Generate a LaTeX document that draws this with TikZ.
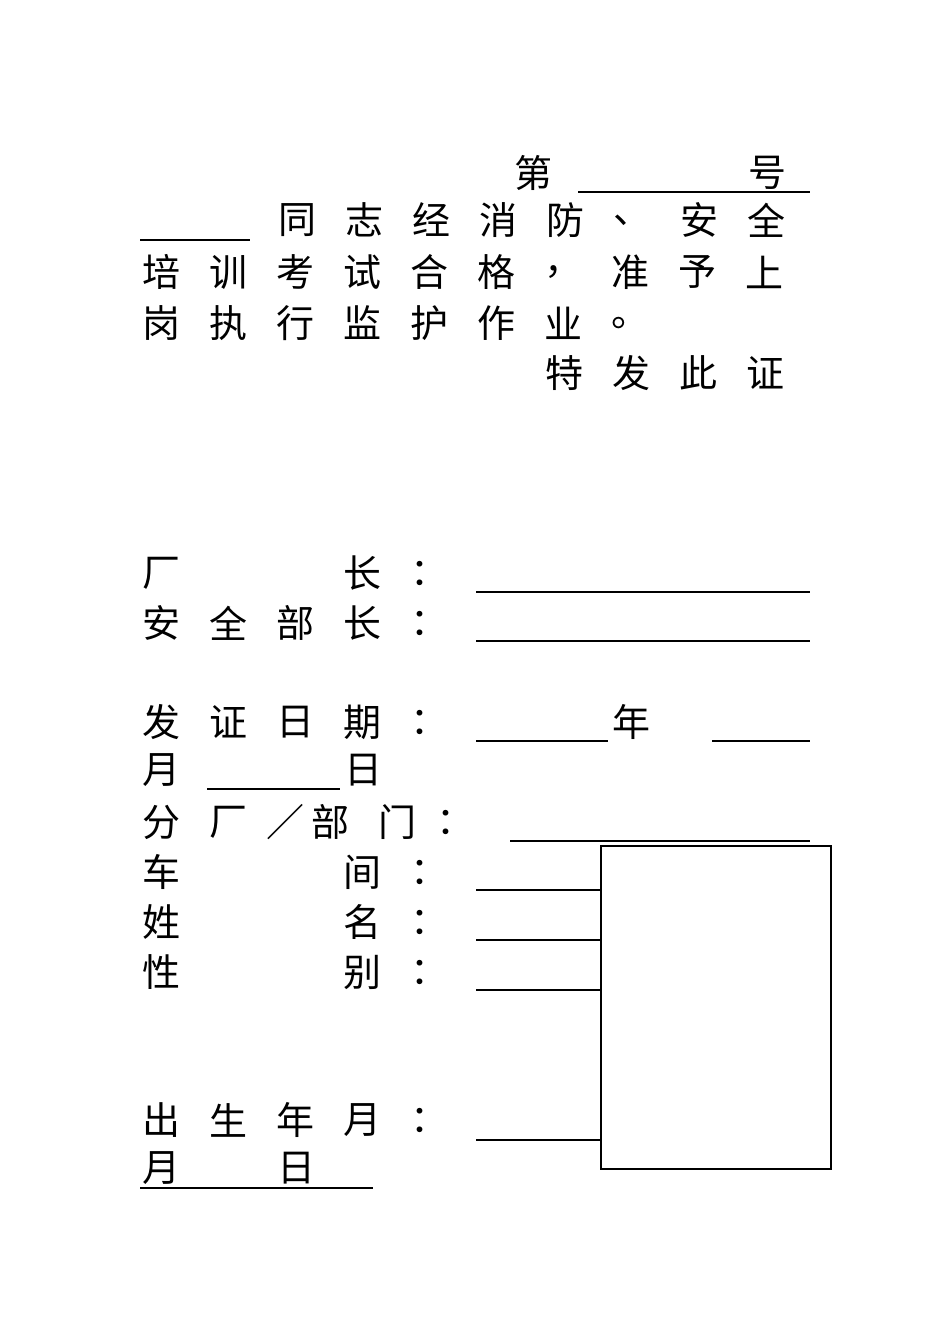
\documentclass[tikz,border=0pt]{standalone}
\usepackage{fontspec}
\newfontfamily\cjk{Noto Sans CJK SC}
\begin{document}
\begin{tikzpicture}[x=1pt,y=1pt,
  ch/.style={font=\cjk\fontsize{38}{38}\selectfont,inner sep=0pt,anchor=center},
  ul/.style={line width=1.6pt}]
\useasboundingbox (0,0) rectangle (950,-1342);
\newcommand\row[4]{\foreach \c [count=\i from 0] in {#4}
  \node[ch] (#1-\i) at ({#2+67*\i},-#3) {\c};}
% header
\node[ch] (di) at (533,-173) {第};
\node[ch] (hao) at (767,-173) {号};
\draw[ul] (578,-192) -- (810,-192);
\draw[ul] (140,-240) -- (250,-240);
\row{a}{297}{220}{同,志,经,消,防,、,安,全}
\row{b}{161}{272}{培,训,考,试,合,格,，,准,予,上}
\row{c}{161}{323}{岗,执,行,监,护,作,业,。}
\row{d}{564}{373}{特,发,此,证}
% signatures
\node[ch] at (161,-573) {厂};
\node[ch] at (362,-573) {长};
\node[ch] at (429,-573) {：};
\draw[ul] (476,-592) -- (810,-592);
\row{e}{161}{623}{安,全,部,长,：}
\draw[ul] (476,-641) -- (810,-641);
\row{f}{161}{722}{发,证,日,期,：}
\draw[ul] (476,-741) -- (608,-741);
\node[ch] at (631,-722) {年};
\draw[ul] (712,-741) -- (810,-741);
\node[ch] at (161,-770) {月};
\draw[ul] (207,-789) -- (340,-789);
\node[ch] at (363,-770) {日};
\node[ch] at (161,-822) {分};
\node[ch] at (228,-822) {厂};
\node[ch] at (285,-822) {／};
\node[ch] at (330,-822) {部};
\node[ch] at (397,-822) {门};
\node[ch] at (455,-822) {：};
\draw[ul] (510,-841) -- (810,-841);
\node[ch] at (161,-872) {车};
\node[ch] at (362,-872) {间};
\node[ch] at (429,-872) {：};
\draw[ul] (476,-890) -- (600,-890);
\node[ch] at (161,-922) {姓};
\node[ch] at (362,-922) {名};
\node[ch] at (429,-922) {：};
\draw[ul] (476,-940) -- (600,-940);
\node[ch] at (161,-972) {性};
\node[ch] at (362,-972) {别};
\node[ch] at (429,-972) {：};
\draw[ul] (476,-990) -- (600,-990);
\row{g}{161}{1120}{出,生,年,月,：}
\draw[ul] (476,-1140) -- (600,-1140);
\node[ch] at (161,-1168) {月};
\node[ch] at (296,-1168) {日};
\draw[ul] (140,-1188) -- (373,-1188);
% photo box
\node[draw,line width=1.6pt,minimum width=230pt,minimum height=323pt,anchor=north west,inner sep=0pt] (photo) at (600,-845) {};
\end{tikzpicture}
\end{document}
